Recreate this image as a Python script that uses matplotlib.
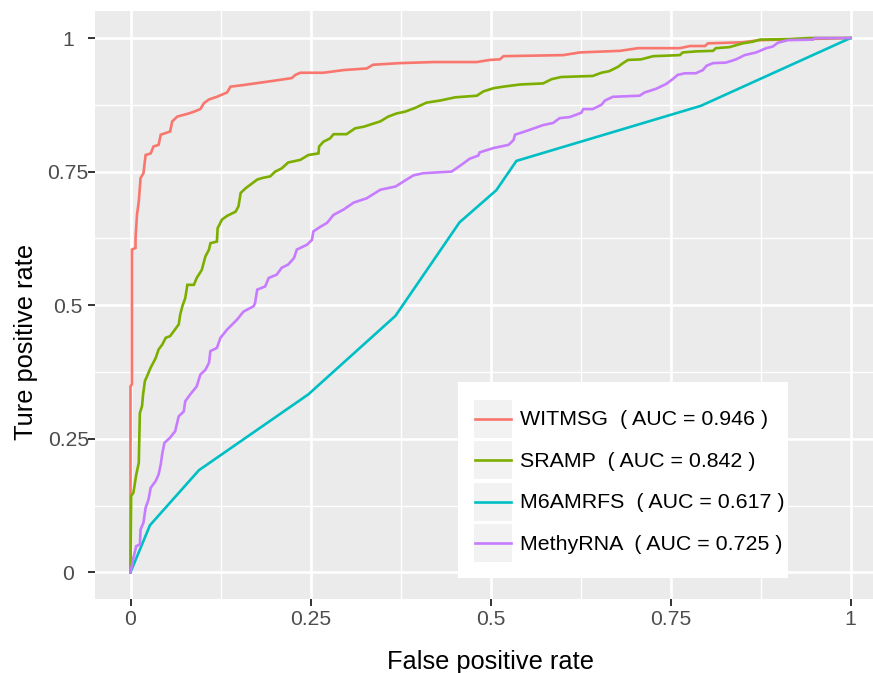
import matplotlib
matplotlib.use("Agg")
import matplotlib.pyplot as plt
from matplotlib.legend_handler import HandlerLine2D
from matplotlib.patches import Rectangle

plt.rcParams['font.family'] = ['Liberation Sans', 'DejaVu Sans']

# ---- data ----
series_names = ["WITMSG", "SRAMP", "M6AMRFS", "MethyRNA"]
auc_values = [0.946, 0.842, 0.617, 0.725]
series_colors = ["#F8766D", "#7CAE00", "#00BFC4", "#C77CFF"]

wit_fpr = [0, 0, 0.002, 0.002, 0.007, 0.007, 0.009, 0.0115, 0.014, 0.018,
           0.021, 0.028, 0.032, 0.039, 0.042, 0.055, 0.058, 0.065, 0.079, 0.088,
           0.097, 0.102, 0.109, 0.120, 0.134, 0.139, 0.157, 0.199, 0.224, 0.229,
           0.236, 0.268, 0.296, 0.328, 0.337, 0.374, 0.421, 0.481, 0.499, 0.513,
           0.518, 0.601, 0.624, 0.680, 0.705, 0.763, 0.777, 0.798, 0.802, 0.850,
           0.874, 1.0]
wit_tpr = [0, 0.348, 0.352, 0.604, 0.607, 0.626, 0.669, 0.694, 0.738, 0.747,
           0.781, 0.784, 0.797, 0.800, 0.819, 0.825, 0.844, 0.853, 0.858, 0.862,
           0.867, 0.878, 0.885, 0.890, 0.898, 0.909, 0.912, 0.920, 0.925, 0.931,
           0.935, 0.935, 0.940, 0.943, 0.950, 0.953, 0.955, 0.955, 0.959, 0.960,
           0.966, 0.968, 0.973, 0.976, 0.981, 0.981, 0.985, 0.985, 0.990, 0.992,
           0.996, 1.0]

sr_fpr = [0, 0.001, 0.004, 0.008, 0.0115, 0.013, 0.016, 0.0175, 0.020, 0.023,
          0.028, 0.035, 0.039, 0.044, 0.049, 0.055, 0.067, 0.069, 0.072, 0.076,
          0.079, 0.088, 0.092, 0.099, 0.104, 0.109, 0.111, 0.120, 0.121, 0.127,
          0.134, 0.146, 0.150, 0.153, 0.160, 0.169, 0.176, 0.183, 0.194, 0.201,
          0.210, 0.219, 0.236, 0.247, 0.261, 0.262, 0.268, 0.277, 0.282, 0.300,
          0.312, 0.324, 0.347, 0.358, 0.370, 0.381, 0.395, 0.411, 0.430, 0.451,
          0.481, 0.490, 0.504, 0.518, 0.541, 0.573, 0.585, 0.598, 0.642, 0.654,
          0.665, 0.677, 0.684, 0.691, 0.709, 0.726, 0.763, 0.767, 0.786, 0.809,
          0.813, 0.832, 0.850, 0.864, 0.874, 0.915, 0.943, 1.0]
sr_tpr = [0, 0.143, 0.149, 0.183, 0.205, 0.298, 0.311, 0.333, 0.358, 0.367,
          0.383, 0.401, 0.417, 0.426, 0.439, 0.442, 0.464, 0.482, 0.498, 0.513,
          0.538, 0.538, 0.551, 0.566, 0.591, 0.604, 0.616, 0.619, 0.644, 0.660,
          0.667, 0.675, 0.685, 0.710, 0.719, 0.728, 0.735, 0.738, 0.741, 0.750,
          0.756, 0.767, 0.772, 0.781, 0.784, 0.797, 0.806, 0.812, 0.820, 0.820,
          0.831, 0.834, 0.844, 0.853, 0.859, 0.862, 0.869, 0.879, 0.883, 0.889,
          0.892, 0.900, 0.906, 0.909, 0.913, 0.915, 0.923, 0.927, 0.929, 0.935,
          0.938, 0.946, 0.953, 0.959, 0.960, 0.966, 0.968, 0.973, 0.975, 0.976,
          0.981, 0.983, 0.990, 0.993, 0.997, 0.998, 1.0, 1.0]

m6_fpr = [0, 0.027, 0.095, 0.247, 0.368, 0.457, 0.508, 0.536, 0.792, 1.0]
m6_tpr = [0, 0.088, 0.191, 0.333, 0.480, 0.655, 0.715, 0.770, 0.873, 1.0]

me_fpr = [0, 0.004, 0.008, 0.013, 0.014, 0.018, 0.021, 0.025, 0.028, 0.035,
          0.039, 0.042, 0.044, 0.047, 0.055, 0.062, 0.067, 0.074, 0.076, 0.083,
          0.092, 0.097, 0.104, 0.109, 0.111, 0.120, 0.125, 0.134, 0.148, 0.157,
          0.171, 0.173, 0.176, 0.187, 0.192, 0.203, 0.210, 0.219, 0.227, 0.231,
          0.245, 0.252, 0.254, 0.264, 0.273, 0.282, 0.296, 0.310, 0.328, 0.347,
          0.368, 0.393, 0.407, 0.446, 0.460, 0.471, 0.483, 0.485, 0.504, 0.525,
          0.532, 0.534, 0.552, 0.573, 0.587, 0.596, 0.610, 0.626, 0.629, 0.642,
          0.654, 0.659, 0.670, 0.707, 0.714, 0.730, 0.744, 0.753, 0.760, 0.770,
          0.785, 0.795, 0.800, 0.809, 0.827, 0.841, 0.853, 0.869, 0.883, 0.892,
          0.899, 0.913, 0.948, 0.950, 1.0]
me_tpr = [0, 0.027, 0.049, 0.052, 0.080, 0.093, 0.121, 0.136, 0.158, 0.171,
          0.183, 0.202, 0.221, 0.242, 0.252, 0.264, 0.292, 0.301, 0.320, 0.333,
          0.348, 0.370, 0.379, 0.392, 0.414, 0.420, 0.439, 0.454, 0.473, 0.488,
          0.498, 0.504, 0.529, 0.535, 0.551, 0.557, 0.570, 0.576, 0.588, 0.604,
          0.613, 0.622, 0.638, 0.647, 0.654, 0.669, 0.679, 0.692, 0.700, 0.716,
          0.722, 0.743, 0.747, 0.750, 0.763, 0.774, 0.780, 0.786, 0.794, 0.800,
          0.809, 0.819, 0.827, 0.837, 0.841, 0.850, 0.852, 0.860, 0.867, 0.867,
          0.875, 0.883, 0.890, 0.892, 0.898, 0.905, 0.914, 0.923, 0.931, 0.934,
          0.934, 0.940, 0.948, 0.953, 0.954, 0.960, 0.968, 0.973, 0.981, 0.984,
          0.991, 0.996, 0.997, 1.0, 1.0]

tick_values = [0, 0.25, 0.5, 0.75, 1]
tick_labels = ["0", "0.25", "0.5", "0.75", "1"]
minor_values = [0.125, 0.375, 0.625, 0.875]

curves = [(wit_fpr, wit_tpr), (sr_fpr, sr_tpr), (m6_fpr, m6_tpr), (me_fpr, me_tpr)]

# ---- figure ----
W, H = 873, 673
fig = plt.figure(figsize=(W / 100, H / 100), dpi=100)
fig.patch.set_facecolor("white")
ax = fig.add_axes([94.5 / W, 1 - 599 / H, 792.0 / W, 587.7 / H])
ax.set_facecolor("#EBEBEB")
for s in ax.spines.values():
    s.set_visible(False)

ax.set_xlim(-0.05, 1.05)
ax.set_ylim(-0.05, 1.05)

ax.set_xticks(tick_values)
ax.set_xticklabels(tick_labels)
ax.set_yticks(tick_values)
ax.set_yticklabels(tick_labels)
ax.set_xticks(minor_values, minor=True)
ax.set_yticks(minor_values, minor=True)

ax.grid(which="major", color="white", linewidth=1.9)
ax.grid(which="minor", color="white", linewidth=1.0)
ax.set_axisbelow(True)

ax.tick_params(axis="both", which="major", length=4.7, width=1.4, color="#333333",
               labelcolor="#4D4D4D", labelsize=15.2)
ax.tick_params(axis="x", which="major", pad=3.0)
ax.tick_params(axis="y", which="major", pad=14.2)
ax.tick_params(which="minor", length=0)
for lab in ax.get_yticklabels():
    lab.set_horizontalalignment("center")

handles = []
for (fx, fy), name, auc, col in zip(curves, series_names, auc_values, series_colors):
    ln, = ax.plot(fx, fy, color=col, linewidth=1.9, solid_joinstyle="miter",
                  label=f"{name}  ( AUC = {auc:.3f} )")
    handles.append(ln)

ax.set_xlabel("False positive rate", fontsize=18.3, color="black")
ax.xaxis.label.set_verticalalignment("baseline")
ax.xaxis.set_label_coords(0.5, -(669 - 599) / 587.7)
ax.set_ylabel("Ture positive rate", fontsize=18.3, color="black")
ax.yaxis.label.set_verticalalignment("baseline")
ax.yaxis.set_label_coords((33.5 - 94.5) / 792.0, (599 - 341.5) / 587.7)


class KeyHandler(HandlerLine2D):
    def create_artists(self, legend, orig_handle, xdescent, ydescent, width,
                       height, fontsize, trans):
        arts = super().create_artists(legend, orig_handle, xdescent, ydescent,
                                      width, height, fontsize, trans)
        yc = height / 2.0 - ydescent
        for a in arts:
            a.set_ydata([yc] * len(a.get_xdata()))
        bg = Rectangle((-xdescent, -ydescent), width, height,
                       facecolor="#F2F2F2", edgecolor="none", transform=trans)
        return [bg] + list(arts)


# white legend background box
legend_bg = Rectangle((458 / W, 1 - 578 / H), 330 / W, 196 / H,
                      transform=fig.transFigure, facecolor="white",
                      edgecolor="none", zorder=4.9, clip_on=False)
ax.add_patch(legend_bg)

leg = ax.legend(handles=handles, loc="lower left",
                bbox_to_anchor=(474 / W, 1 - 562 / H), bbox_transform=fig.transFigure,
                frameon=False, borderpad=0, borderaxespad=0,
                handlelength=1.78, handleheight=2.36, handletextpad=0.37,
                labelspacing=0.155, numpoints=2, fontsize=15.4,
                handler_map={matplotlib.lines.Line2D: KeyHandler(marker_pad=0.07)})
leg.set_zorder(5)
for t in leg.get_texts():
    t.set_color("black")

fig.savefig("out.png", dpi=100)
